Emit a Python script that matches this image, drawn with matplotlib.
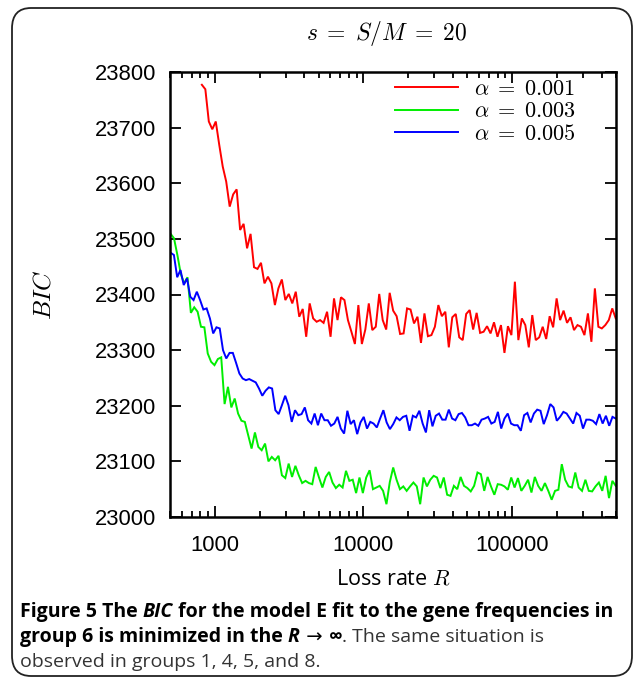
import numpy as np
import matplotlib
matplotlib.use("Agg")
import matplotlib.pyplot as plt
from matplotlib.patches import FancyBboxPatch
from matplotlib.ticker import FixedLocator, FixedFormatter, LogLocator, NullFormatter

plt.rcParams['mathtext.fontset'] = 'cm'

# ---------------- data ----------------
title_text = r"$s\;=\;S/M\;=\;20$"
labels = [r"$\alpha\;=\;0.001$", r"$\alpha\;=\;0.003$", r"$\alpha\;=\;0.005$"]
colors = ["#ff0000", "#00ee00", "#0000ff"]

red_R_range = (819, 498000)
green_R_range = (505, 498000)
blue_R_range = (505, 498000)

bic_red = [23777, 23769, 23711, 23697, 23711, 23669, 23630, 23603, 23558, 23580, 23589, 23516,
           23527, 23483, 23509, 23449, 23446, 23457, 23420, 23432, 23420, 23381, 23411, 23427,
           23390, 23401, 23384, 23405, 23360, 23374, 23324, 23384, 23357, 23351,
           23354, 23349, 23369, 23324, 23393, 23354, 23395, 23390, 23354, 23333, 23311, 23381,
           23311, 23337, 23384, 23336, 23342, 23401, 23354, 23337, 23403, 23371, 23361, 23329,
           23330, 23375, 23373, 23348, 23360, 23313, 23366, 23325, 23327, 23342, 23381, 23361,
           23369, 23305, 23359, 23365, 23323, 23318,
           23365, 23372, 23337, 23367, 23331, 23333, 23343, 23330, 23350, 23324, 23345, 23295,
           23343, 23327, 23423, 23318, 23357, 23345, 23305, 23363, 23318, 23323, 23342, 23320,
           23361, 23341, 23393, 23354, 23371, 23349, 23359, 23336, 23345, 23342, 23327, 23366,
           23315, 23411, 23342, 23339, 23345, 23354, 23375, 23357]

bic_green = [23509, 23501, 23471, 23437, 23420, 23431, 23367, 23377, 23369, 23342, 23341, 23294,
             23279, 23273, 23284, 23287, 23203, 23234, 23197, 23213, 23186, 23173, 23171, 23147,
             23123, 23152, 23126, 23120, 23132, 23100, 23108, 23102, 23110, 23075, 23070, 23096,
             23072, 23092, 23075, 23061, 23065,
             23061, 23059, 23090, 23071, 23053, 23072, 23081, 23062, 23052, 23058, 23053, 23083,
             23065, 23067, 23043, 23071, 23043, 23071, 23084, 23050, 23053, 23056, 23047, 23023,
             23063, 23089, 23067, 23050, 23055, 23047, 23055, 23062, 23055, 23023, 23071, 23055,
             23067, 23074, 23071, 23052, 23071, 23040, 23038,
             23056, 23050, 23072, 23056, 23052, 23046, 23056, 23080, 23077, 23047, 23072, 23055,
             23040, 23059, 23058, 23055, 23049, 23071, 23053, 23070, 23047, 23056, 23067, 23044,
             23072, 23056, 23047, 23061, 23047, 23031, 23047, 23049, 23095, 23067, 23055, 23053,
             23080, 23053, 23047, 23067, 23047, 23046, 23055, 23062, 23047, 23074, 23034, 23065,
             23056]

bic_blue = [23475, 23471, 23431, 23444, 23417, 23429, 23396, 23390, 23405, 23390, 23373, 23375,
            23357, 23330, 23341, 23339, 23300, 23285, 23295, 23295, 23277, 23258, 23249, 23246,
            23248, 23245, 23242, 23231, 23218, 23227, 23233, 23231, 23192, 23185, 23201, 23218,
            23201, 23171, 23192, 23183, 23185, 23197, 23174, 23168,
            23186, 23165, 23186, 23174, 23174, 23164, 23168, 23180, 23159, 23150, 23191, 23167,
            23174, 23149, 23170, 23180, 23159, 23171, 23168, 23161, 23177, 23192, 23170, 23158,
            23167, 23179, 23174, 23180, 23182, 23155, 23182, 23179, 23191, 23168, 23152, 23192,
            23163, 23182, 23186, 23175, 23175, 23193, 23177, 23174, 23185,
            23187, 23179, 23165, 23165, 23168, 23164, 23175, 23177, 23180, 23168, 23171, 23189,
            23159, 23177, 23186, 23168, 23165, 23165, 23155, 23183, 23187, 23170, 23186, 23193,
            23191, 23167, 23183, 23203, 23197, 23173, 23180, 23189, 23186, 23177, 23168, 23187,
            23182, 23159, 23175, 23175, 23173, 23167, 23185, 23168, 23182, 23164, 23180, 23177]

x_ticks = [1000, 10000, 100000]
x_ticklabels = ["1000", "10000", "100000"]
y_ticks = [23000, 23100, 23200, 23300, 23400, 23500, 23600, 23700, 23800]
xlim = (500, 500000)
ylim = (23000, 23800)

# ---------------- figure ----------------
W, H = 636, 679
fig = plt.figure(figsize=(W / 100, H / 100), dpi=100)

# rounded frame around figure
frame = FancyBboxPatch((12 / W, 1 - 676 / H), (632 - 12) / W, (676 - 8) / H,
                       boxstyle="round,pad=0,rounding_size=0.03",
                       transform=fig.transFigure, fill=False,
                       edgecolor="#222222", linewidth=1.3, zorder=0)
fig.patches.append(frame)

ax = fig.add_axes([170 / W, 1 - 517 / H, (616 - 170) / W, (517 - 72) / H])

series = [(bic_red, red_R_range), (bic_green, green_R_range), (bic_blue, blue_R_range)]
for (vals, rr), lab, col in zip(series, labels, colors):
    R = np.geomspace(rr[0], rr[1], len(vals))
    ax.plot(R, vals, color=col, lw=1.4, label=lab, solid_joinstyle='miter')

ax.set_xscale('log')
ax.set_xlim(*xlim)
ax.set_ylim(*ylim)
ax.xaxis.set_major_locator(FixedLocator(x_ticks))
ax.xaxis.set_major_formatter(FixedFormatter(x_ticklabels))
ax.xaxis.set_minor_locator(LogLocator(base=10, subs=np.arange(2, 10)))
ax.xaxis.set_minor_formatter(NullFormatter())
ax.yaxis.set_major_locator(FixedLocator(y_ticks))
ax.set_yticklabels([str(v) for v in y_ticks])

ax.tick_params(which='both', direction='in', top=True, right=True, width=1.3, colors='black')
ax.tick_params(which='major', length=8)
ax.tick_params(which='minor', length=4)
ax.tick_params(axis='both', which='major', labelsize=15.8)
ax.tick_params(axis='y', which='major', pad=10)
ax.tick_params(axis='x', which='major', pad=13)
for lab in ax.get_xticklabels() + ax.get_yticklabels():
    lab.set_fontfamily('Liberation Sans')
for sp in ax.spines.values():
    sp.set_linewidth(1.8)

ax.set_ylabel(r"$BIC$", fontsize=18, labelpad=28)
ax.set_xlabel("Loss rate $R$", fontsize=15.5, fontfamily='Open Sans', labelpad=9)
fig.text(387 / W, 1 - 33 / H, title_text, fontsize=17, ha='center', va='center')

leg = ax.legend(loc='upper right', bbox_to_anchor=(0.94, 1.015), frameon=False,
                fontsize=16, handlelength=2.8, handletextpad=0.75, labelspacing=0.12,
                borderaxespad=0.2)

# ---------------- caption ----------------
renderer = fig.canvas.get_renderer()


def width_of(text, **kw):
    t1 = fig.text(0, 0, text + ".", **kw)
    t2 = fig.text(0, 0, ".", **kw)
    w = t1.get_window_extent(renderer).width - t2.get_window_extent(renderer).width
    t1.remove()
    t2.remove()
    return w


def draw_runs(x0, y_base, parts):
    x = x0
    for text, kw in parts:
        fig.text(x / W, 1 - y_base / H, text, va='baseline', ha='left', **kw)
        x += width_of(text, **kw)


cap_size = 14
bold = dict(fontsize=cap_size, fontweight='bold', family=['Open Sans', 'DejaVu Sans'], color='black')
bold_it = dict(fontsize=cap_size, fontweight='bold', fontstyle='italic',
               family=['Open Sans', 'DejaVu Sans'], color='black')
sym = dict(fontsize=cap_size, family=['DejaVu Sans'], color='black')
reg = dict(fontsize=cap_size, family=['Open Sans', 'DejaVu Sans'], color='#333333')

draw_runs(20, 617, [("Figure 5 The ", bold), ("BIC", bold_it),
                    (" for the model E fit to the gene frequencies in", bold)])
draw_runs(20, 642, [("group 6 is minimized in the ", bold), ("R", bold_it),
                    (" \u2192 ", sym), ("\u221e", bold), (". The same situation is", reg)])
draw_runs(20, 667, [("observed in groups 1, 4, 5, and 8.", reg)])

fig.savefig("out.png", dpi=100)
